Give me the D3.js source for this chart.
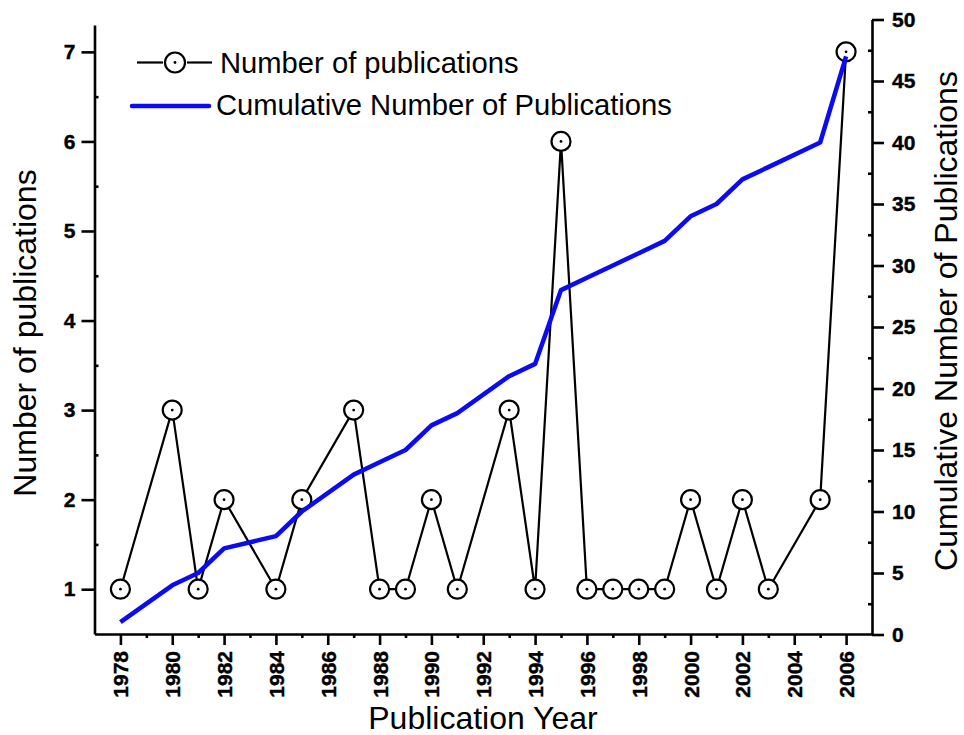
<!DOCTYPE html>
<html lang="en">
	<head>
		<meta charset="utf-8">
		<title>Publications per year</title>
		<script type="text/javascript" src="https://d3js.org/d3.v7.min.js"></script>
		<style type="text/css">
			body { margin: 0; background: #fff; }
			text { font-family: "Liberation Sans", Arial, sans-serif; }
			.tick text { font-weight: bold; font-size: 21px; fill: #000; stroke: #000; stroke-width: 0.4px; }
		</style>
	</head>
	<body>
		<script type="text/javascript">

			var w = 964;
			var h = 735;

			// data
			var years  = [1978, 1980, 1981, 1982, 1984, 1985, 1987, 1988, 1989, 1990, 1991, 1993,
			              1994, 1995, 1996, 1997, 1998, 1999, 2000, 2001, 2002, 2003, 2005, 2006];
			var counts = [1, 3, 1, 2, 1, 2, 3, 1, 1, 2, 1, 3,
			              1, 6, 1, 1, 1, 1, 2, 1, 2, 1, 2, 7];
			var cumulative = [1, 4, 5, 7, 8, 10, 13, 14, 15, 17, 18, 21,
			                  22, 28, 29, 30, 31, 32, 34, 35, 37, 38, 40, 47];

			var xTicks = d3.range(1978, 2007, 2);
			var xMinor = d3.range(1979, 2006, 2);
			var leftTicks = [1, 2, 3, 4, 5, 6, 7];
			var leftMinor = [1.5, 2.5, 3.5, 4.5, 5.5, 6.5];
			var rightTicks = d3.range(0, 51, 5);
			var rightMinor = d3.range(2.5, 50, 5);

			var svg = d3.select("body")
						.append("svg")
						.attr("width", w)
						.attr("height", h);

			var x = d3.scaleLinear().domain([1977, 2007]).range([94.5, 872]);
			var yL = d3.scaleLinear().domain([0.5, 7.3]).range([634, 25]);
			var yR = d3.scaleLinear().domain([0, 50]).range([634.5, 19.5]);

			// axes
			var gx = svg.append("g").attr("transform", "translate(0,634)")
						.call(d3.axisBottom(x).tickValues(xTicks).tickSize(11).tickSizeOuter(0).tickPadding(4).tickFormat(d3.format("d")));
			gx.selectAll(".tick text")
				.attr("transform", "rotate(-90)")
				.attr("text-anchor", "end")
				.attr("x", -17)
				.attr("y", 0)
				.attr("dy", "0.36em");
			svg.append("g").attr("transform", "translate(0,634)")
				.call(d3.axisBottom(x).tickValues(xMinor).tickSize(4).tickFormat(""))
				.select(".domain").remove();

			var gl = svg.append("g").attr("transform", "translate(94.5,0)")
						.call(d3.axisLeft(yL).tickValues(leftTicks).tickSize(13).tickSizeOuter(0).tickPadding(6).tickFormat(d3.format("d")));
			svg.append("g").attr("transform", "translate(94.5,0)")
				.call(d3.axisLeft(yL).tickValues(leftMinor).tickSize(-4).tickFormat(""))
				.select(".domain").remove();

			var gr = svg.append("g").attr("transform", "translate(872,0)")
						.call(d3.axisRight(yR).tickValues(rightTicks).tickSize(12).tickSizeOuter(0).tickPadding(8).tickFormat(d3.format("d")));
			svg.append("g").attr("transform", "translate(872,0)")
				.call(d3.axisRight(yR).tickValues(rightMinor).tickSize(-4).tickFormat(""))
				.select(".domain").remove();

			svg.selectAll(".domain").attr("stroke", "#000").attr("stroke-width", 2.6);
			svg.selectAll(".tick line").attr("stroke", "#000").attr("stroke-width", 2.6);

			// number of publications
			var pts = years.map(function(d, i){ return {year: d, n: counts[i], c: cumulative[i]}; });

			var line = d3.line()
						.x(function(d){ return x(d.year); })
						.y(function(d){ return yL(d.n); });

			svg.append("path")
				.datum(pts)
				.attr("d", line)
				.attr("fill", "none")
				.attr("stroke", "#000")
				.attr("stroke-width", 2.2);

			var marks = svg.selectAll(".mark")
						.data(pts)
						.enter()
						.append("g")
						.attr("class", "mark")
						.attr("transform", function(d){ return "translate(" + x(d.year) + "," + yL(d.n) + ")"; });
			marks.append("circle").attr("r", 9.5).attr("fill", "#fff").attr("stroke", "#000").attr("stroke-width", 2.2);
			marks.append("circle").attr("r", 1.4).attr("fill", "#000");

			// cumulative
			var cline = d3.line()
						.x(function(d){ return x(d.year); })
						.y(function(d){ return yR(d.c); });

			svg.append("path")
				.datum(pts)
				.attr("d", cline)
				.attr("fill", "none")
				.attr("stroke", "#0a0af5")
				.attr("stroke-width", 4.5)
				.attr("stroke-linejoin", "round");

			// legend
			var lg = svg.append("g");
			lg.append("line").attr("x1", 137).attr("x2", 163).attr("y1", 62.5).attr("y2", 62.5).attr("stroke", "#000").attr("stroke-width", 2.2);
			lg.append("line").attr("x1", 187).attr("x2", 212).attr("y1", 62.5).attr("y2", 62.5).attr("stroke", "#000").attr("stroke-width", 2.2);
			lg.append("circle").attr("cx", 175).attr("cy", 62.5).attr("r", 10).attr("fill", "#fff").attr("stroke", "#000").attr("stroke-width", 2.2);
			lg.append("circle").attr("cx", 175).attr("cy", 62.5).attr("r", 1.4).attr("fill", "#000");
			lg.append("text").attr("x", 220).attr("y", 73).attr("font-size", 29.2).text("Number of publications");
			lg.append("line").attr("x1", 132).attr("x2", 209).attr("y1", 106).attr("y2", 106).attr("stroke", "#0a0af5").attr("stroke-width", 4.5).attr("stroke-linecap", "round");
			lg.append("text").attr("x", 216).attr("y", 115).attr("font-size", 29.2).text("Cumulative Number of Publications");

			// axis titles
			svg.append("text")
				.attr("x", 483).attr("y", 729)
				.attr("text-anchor", "middle")
				.attr("font-size", 32)
				.text("Publication Year");

			svg.append("text")
				.attr("transform", "translate(36,333) rotate(-90)")
				.attr("text-anchor", "middle")
				.attr("font-size", 32)
				.text("Number of publications");

			svg.append("text")
				.attr("transform", "translate(957,321) rotate(-90)")
				.attr("text-anchor", "middle")
				.attr("font-size", 32)
				.text("Cumulative Number of Publications");

		</script>
	</body>
</html>
